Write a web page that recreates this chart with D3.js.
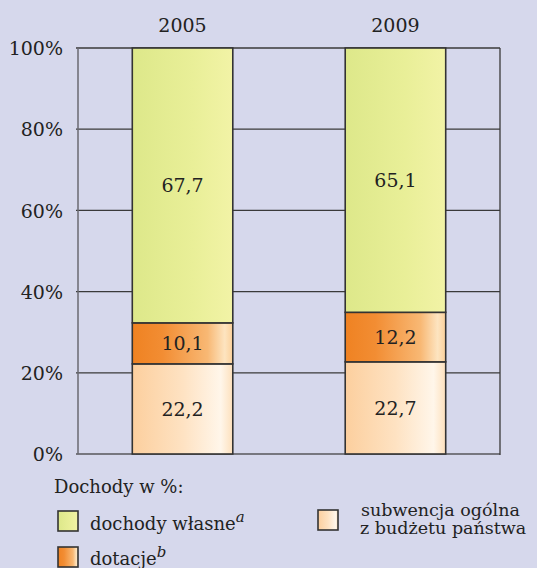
<!DOCTYPE html>
<html><head><meta charset="utf-8">
<script src="https://cdn.jsdelivr.net/npm/d3@7"></script>
<style>
html,body{margin:0;padding:0;background:#d6d8ec;}
svg{display:block;}
</style></head>
<body>
<svg id="chart" width="537" height="568"></svg>
<script>
const years = ["2005", "2009"];
const seriesNames = ["subwencja", "dotacje", "wlasne"];
const subwencja = [22.2, 22.7];
const dotacje = [10.1, 12.2];
const wlasne = [67.7, 65.1];
const valueLabels = {subwencja: ["22,2", "22,7"], dotacje: ["10,1", "12,2"], wlasne: ["67,7", "65,1"]};
const yTicks = [0, 20, 40, 60, 80, 100];
const legendTitle = "Dochody w %:";

(function () {
const FONT = "DejaVu Serif";
const FS = 19;
const svg = d3.select("#chart").attr("font-family", FONT);
const W = 537, H = 568;
svg.append("rect").attr("width", W).attr("height", H).attr("fill", "#d6d8ec");

const pLeft = 78, pRight = 500, pTop = 48, pBottom = 454;
const y = d3.scaleLinear().domain([0, 100]).range([pBottom, pTop]);
const x = d3.scaleBand().domain(years).range([pLeft, pRight]).paddingInner(0.528).paddingOuter(0.255);

const defs = svg.append("defs");
function grad(id, stops) {
  const g = defs.append("linearGradient").attr("id", id).attr("x1", "0").attr("x2", "1").attr("y1", "0").attr("y2", "0");
  stops.forEach(s => g.append("stop").attr("offset", s[0]).attr("stop-color", s[1]));
}
grad("gWlasne", [[0, "#dde88a"], [0.6, "#e9ef98"], [1, "#f2f3a6"]]);
grad("gDotacje", [[0, "#ef8222"], [0.3, "#f28d33"], [0.75, "#f8b874"], [0.92, "#fde4c0"], [1, "#fbd09a"]]);
grad("gSub", [[0, "#fccf9e"], [0.5, "#fee2c2"], [0.88, "#fff6ea"], [1, "#fde0bc"]]);
const fills = {subwencja: "url(#gSub)", dotacje: "url(#gDotacje)", wlasne: "url(#gWlasne)"};

svg.append("g").selectAll("line").data(yTicks.filter(d => d > 0)).join("line")
  .attr("x1", pLeft - 2).attr("x2", pRight).attr("y1", d => y(d)).attr("y2", d => y(d))
  .attr("stroke", "#3a3a3a").attr("stroke-width", 1.3);
svg.append("line").attr("x1", pLeft - 2).attr("x2", pRight).attr("y1", y(0)).attr("y2", y(0))
  .attr("stroke", "#77777f").attr("stroke-width", 2);
svg.append("line").attr("x1", pLeft).attr("x2", pLeft).attr("y1", pTop).attr("y2", pBottom)
  .attr("stroke", "#6a6a72").attr("stroke-width", 1.5);
svg.append("line").attr("x1", pRight).attr("x2", pRight).attr("y1", pTop).attr("y2", pBottom + 1)
  .attr("stroke", "#3a3a3a").attr("stroke-width", 1.3);

const yAxis = d3.axisLeft(y).tickValues(yTicks).tickFormat(d => d + "%").tickSize(0).tickPadding(15);
const ya = svg.append("g").attr("transform", `translate(${pLeft},0)`).call(yAxis);
ya.attr("font-family", FONT).attr("font-size", FS);
ya.select(".domain").remove();
ya.selectAll("text").attr("font-size", FS).attr("fill", "#222").attr("dy", "0.35em");

const data = years.map((yr, i) => ({year: yr, subwencja: subwencja[i], dotacje: dotacje[i], wlasne: wlasne[i]}));
const stack = d3.stack().keys(seriesNames)(data);
const g = svg.append("g");
stack.forEach(layer => {
  g.selectAll(null).data(layer).join("rect")
    .attr("x", d => x(d.data.year)).attr("width", x.bandwidth())
    .attr("y", d => y(Math.min(d[1], 100))).attr("height", d => y(d[0]) - y(Math.min(d[1], 100)))
    .attr("fill", fills[layer.key]).attr("stroke", "#333").attr("stroke-width", 1.6);
});
stack.forEach(layer => {
  g.selectAll(null).data(layer).join("text")
    .attr("x", d => x(d.data.year) + x.bandwidth() / 2)
    .attr("y", d => y((d[0] + Math.min(d[1], 100)) / 2))
    .attr("dy", "0.35em").attr("text-anchor", "middle")
    .attr("font-size", FS).attr("fill", "#222")
    .text((d, i) => valueLabels[layer.key][i]);
});

svg.append("g").selectAll("text").data(years).join("text")
  .attr("x", d => x(d) + x.bandwidth() / 2).attr("y", 32)
  .attr("text-anchor", "middle").attr("font-size", FS).attr("fill", "#222").text(d => d);

const lg = svg.append("g").attr("fill", "#222");
lg.append("text").attr("x", 54).attr("y", 493).attr("font-size", 18).text(legendTitle);
function swatch(xp, yp, key) {
  lg.append("rect").attr("x", xp).attr("y", yp).attr("width", 20).attr("height", 20)
    .attr("fill", fills[key]).attr("stroke", "#333").attr("stroke-width", 1.6);
}
swatch(58, 511, "wlasne");
swatch(58, 547, "dotacje");
swatch(318, 510, "subwencja");
const t1 = lg.append("text").attr("x", 90).attr("y", 530).attr("font-size", 18);
t1.append("tspan").text("dochody własne");
t1.append("tspan").attr("dy", -8).attr("font-style", "italic").attr("font-size", 15).text("a");
const t2 = lg.append("text").attr("x", 90).attr("y", 565).attr("font-size", 18);
t2.append("tspan").text("dotacje");
t2.append("tspan").attr("dy", -8).attr("font-style", "italic").attr("font-size", 15).text("b");
lg.append("text").attr("x", 361).attr("y", 516).attr("font-size", 17.5).text("subwencja ogólna");
lg.append("text").attr("x", 360).attr("y", 534).attr("font-size", 17.5).text("z budżetu państwa");
})();
</script>
</body></html>
